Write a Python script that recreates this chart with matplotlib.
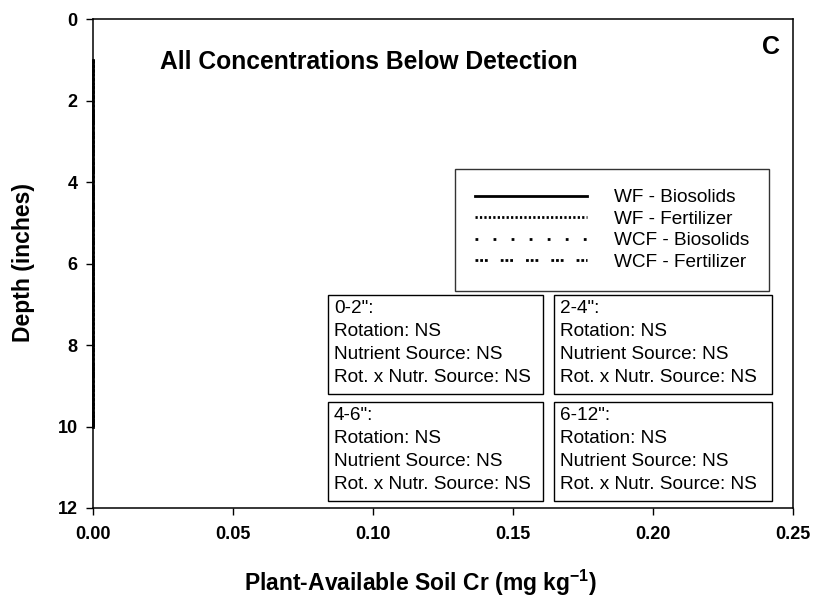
import matplotlib.pyplot as plt
from matplotlib.patches import Rectangle

plt.rcParams['font.family'] = ['Liberation Sans', 'DejaVu Sans']
plt.rcParams['mathtext.fontset'] = 'custom'
plt.rcParams['mathtext.rm'] = 'Liberation Sans'
plt.rcParams['mathtext.bf'] = 'Liberation Sans:bold'

# depth midpoints (inches) and plant-available Cr (all below detection -> 0)
depth = [1, 3, 5, 10]
wf_bio = [0, 0, 0, 0]
wf_fert = [0, 0, 0, 0]
wcf_bio = [0, 0, 0, 0]
wcf_fert = [0, 0, 0, 0]

series_labels = ['WF - Biosolids', 'WF - Fertilizer', 'WCF - Biosolids', 'WCF - Fertilizer']
layer_labels = ['0-2"', '2-4"', '4-6"', '6-12"']
stats_rotation = ['NS', 'NS', 'NS', 'NS']
stats_source = ['NS', 'NS', 'NS', 'NS']
stats_inter = ['NS', 'NS', 'NS', 'NS']

fig = plt.figure(figsize=(8.16, 5.99), dpi=100)
ax = fig.add_axes([93 / 816, 1 - 508 / 599, 700 / 816, 489 / 599])

styles = ['-', (0, (0.8, 0.8)), (0, (1, 5.5)), (0, (1, 0.7, 1, 0.7, 1, 4.7))]
handles = []
for vals, lab, ls in zip([wf_bio, wf_fert, wcf_bio, wcf_fert], series_labels, styles):
    h, = ax.plot(vals, depth, color='black', linestyle=ls, linewidth=2.0,
                 label=lab, clip_on=False)
    handles.append(h)

ax.set_xlim(0, 0.25)
ax.set_ylim(12, 0)
ax.set_xticks([0, 0.05, 0.10, 0.15, 0.20, 0.25])
ax.set_xticklabels(['0.00', '0.05', '0.10', '0.15', '0.20', '0.25'])
ax.set_yticks(range(0, 13, 2))
ax.tick_params(direction='out', length=5, width=1, labelsize=13)
ax.tick_params(axis='x', pad=8)
ax.tick_params(axis='y', pad=6)
for lbl in ax.get_xticklabels() + ax.get_yticklabels():
    lbl.set_fontweight('bold')
for sp in ax.spines.values():
    sp.set_linewidth(1.1)

fig.text(421 / 816, 1 - 583 / 599, 'Plant-Available Soil Cr (mg kg$^{\\mathbf{-1}}$)',
         fontsize=16.5, fontweight='bold', ha='center', va='center')
fig.text(24 / 816, 1 - 262 / 599, 'Depth (inches)', fontsize=16.5,
         fontweight='bold', ha='center', va='center', rotation=90)

ax.text(0.095, 0.912, 'All Concentrations Below Detection', transform=ax.transAxes,
        fontsize=17.7, fontweight='bold', va='center', ha='left')
ax.text(771 / 816, 1 - 47 / 599, 'C', transform=fig.transFigure, fontsize=18,
        fontweight='bold', va='center', ha='center')

leg = ax.legend(handles=handles, loc='upper left',
                bbox_to_anchor=((455 - 93) / 700, (508 - 169) / 489),
                frameon=True, fancybox=False, edgecolor='black', fontsize=13.7,
                handlelength=5.9, handletextpad=1.4, labelspacing=0.22,
                borderpad=1.05, borderaxespad=0)
leg.get_frame().set_linewidth(1.0)

# statistics boxes (pixel positions of the reference layout)
boxes = [(328, 295, 543, 394), (554, 295, 772, 394),
         (328, 402, 543, 501), (554, 402, 772, 501)]
for (x0, y0, x1, y1), lay, r, s, i in zip(boxes, layer_labels, stats_rotation,
                                          stats_source, stats_inter):
    ax0 = (x0 - 93) / 700
    ay0 = (508 - y1) / 489
    ax.add_patch(Rectangle((ax0, ay0), (x1 - x0) / 700, (y1 - y0) / 489,
                           transform=ax.transAxes, fill=True, facecolor='white',
                           edgecolor='black', linewidth=1.0, zorder=5))
    txt = f'{lay}:\nRotation: {r}\nNutrient Source: {s}\nRot. x Nutr. Source: {i}'
    ax.text(ax0 + 6 / 700, (508 - y0 - 5) / 489, txt, transform=ax.transAxes,
            fontsize=13.7, va='top', ha='left', linespacing=1.47, zorder=6)

fig.savefig('out.png', dpi=100)
